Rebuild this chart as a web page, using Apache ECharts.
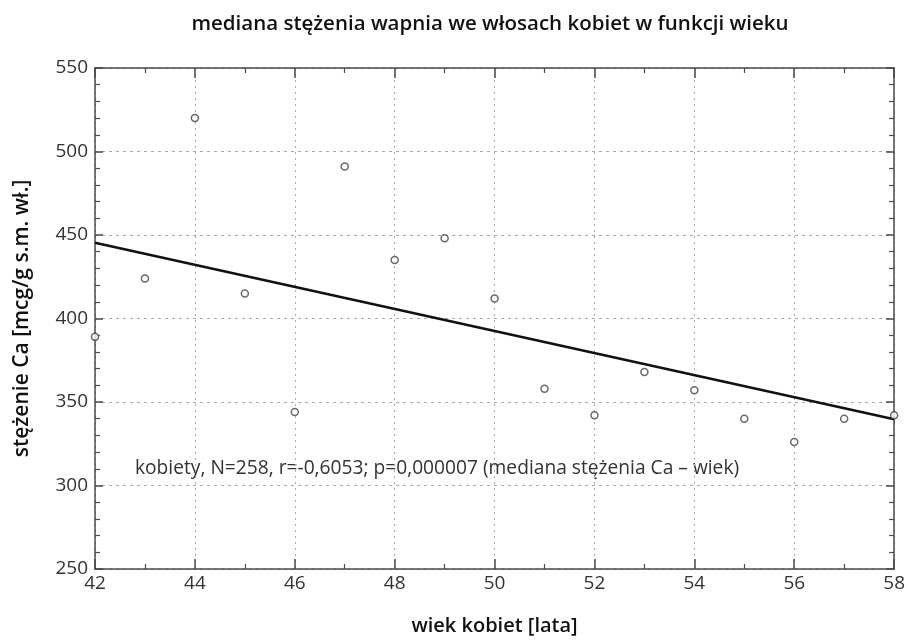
<!DOCTYPE html>
<html>
<head>
<meta charset="utf-8">
<script src="https://cdn.jsdelivr.net/npm/echarts@6/dist/echarts.min.js"></script>
<style>html,body{margin:0;padding:0;background:#fff;}#c{width:908px;height:641px;}</style>
</head>
<body>
<div id="c"></div>
<script>
const ages = [42, 43, 44, 45, 46, 47, 48, 49, 50, 51, 52, 53, 54, 55, 56, 57, 58];
const medianCa = [389, 424, 520, 415, 344, 491, 435, 448, 412, 358, 342, 368, 357, 340, 326, 340, 342];
const trendAges = [42, 58];
const trendValues = [445.4, 339.7];
const titleText = 'mediana stężenia wapnia we włosach kobiet w funkcji wieku';
const xName = 'wiek kobiet [lata]';
const yName = 'stężenie Ca [mcg/g s.m. wł.]';
const noteText = 'kobiety, N=258, r=-0,6053; p=0,000007 (mediana stężenia Ca – wiek)';

const FONT = '"Open Sans", sans-serif';
const axisColor = '#4a4a4a';
const chart = echarts.init(document.getElementById('c'), null, {renderer: 'canvas'});

function baseX(pos, primary) {
  return {
    type: 'value', min: 42, max: 58, interval: 2, position: pos,
    axisLine: {show: true, onZero: false, lineStyle: {color: axisColor, width: 1.5}},
    axisTick: {show: true, inside: true, length: 10, lineStyle: {color: axisColor, width: 1.5}},
    minorTick: {show: true, splitNumber: 2, length: 5, lineStyle: {color: axisColor, width: 1.2}},
    axisLabel: {show: primary, color: '#333', fontFamily: FONT, fontSize: 19, fontWeight: 400, margin: 5},
    splitLine: {show: primary, lineStyle: {color: '#aaa', type: [2, 4], width: 1}},
    name: primary ? xName : '', nameLocation: 'middle', nameGap: 47,
    nameTextStyle: {color: '#111', fontFamily: FONT, fontSize: 20, fontWeight: 600}
  };
}
function baseY(pos, primary) {
  return {
    type: 'value', min: 250, max: 550, interval: 50, position: pos,
    axisLine: {show: true, onZero: false, lineStyle: {color: axisColor, width: 1.5}},
    axisTick: {show: true, inside: true, length: 8, lineStyle: {color: axisColor, width: 1.5}},
    minorTick: {show: true, splitNumber: 5, length: 5, lineStyle: {color: axisColor, width: 1.2}},
    axisLabel: {show: primary, color: '#333', fontFamily: FONT, fontSize: 19, fontWeight: 400, margin: 7},
    splitLine: {show: primary, lineStyle: {color: '#aaa', type: [3, 4], width: 1}},
    name: primary ? yName : '', nameLocation: 'middle', nameGap: 62,
    nameTextStyle: {color: '#111', fontFamily: FONT, fontSize: 21, fontWeight: 600}
  };
}

chart.setOption({
  animation: false,
  backgroundColor: '#fff',
  title: {
    text: titleText, left: 485, textAlign: 'center', top: 9,
    textStyle: {color: '#111', fontFamily: FONT, fontSize: 20.5, fontWeight: 600}
  },
  grid: {left: 95, right: 13, top: 68, bottom: 67, containLabel: false},
  xAxis: [baseX('bottom', true), baseX('top', false)],
  yAxis: [baseY('left', true), baseY('right', false)],
  graphic: [{
    type: 'text', left: 135, top: 459,
    style: {text: noteText, fill: '#333', font: '400 19.2px "Open Sans", sans-serif'}
  }],
  series: [
    {
      type: 'line', data: trendAges.map((a, i) => [a, trendValues[i]]),
      showSymbol: false, lineStyle: {color: '#111', width: 2.5}, z: 3
    },
    {
      type: 'scatter', data: ages.map((a, i) => [a, medianCa[i]]),
      symbol: 'circle', symbolSize: 7,
      itemStyle: {color: '#fff', borderColor: '#444', borderWidth: 1.5}, z: 4
    }
  ]
});
</script>
</body>
</html>
